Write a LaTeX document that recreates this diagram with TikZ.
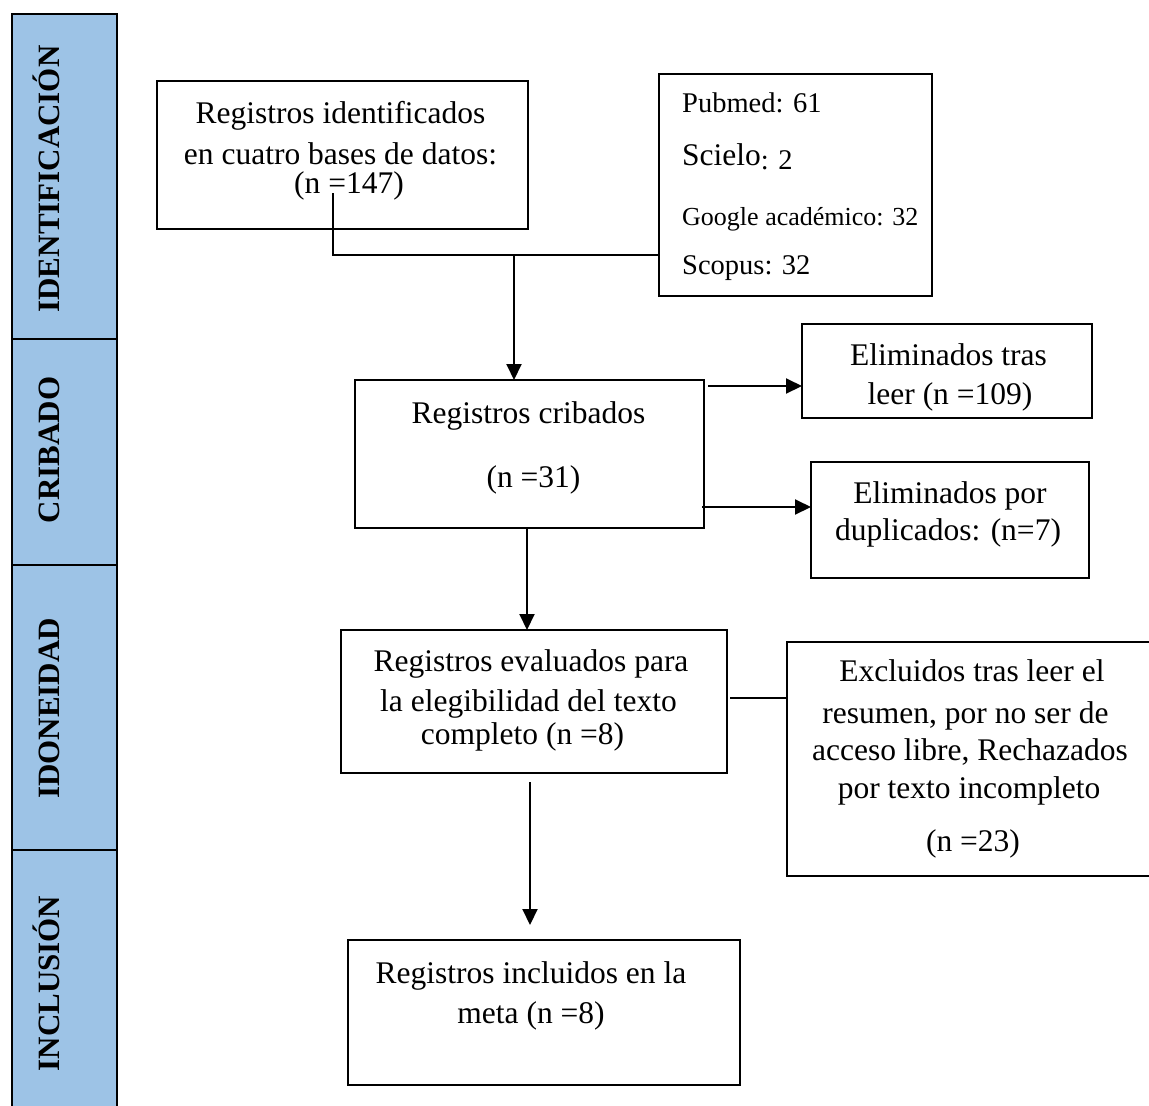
\documentclass[tikz,border=0pt]{standalone}
\usepackage{fontspec}
\setmainfont{Liberation Serif}
\usetikzlibrary{arrows.meta}
\definecolor{sideblue}{HTML}{9DC3E6}
\newcommand{\fmain}{\fontsize{31.5}{36}\selectfont}
\newcommand{\fside}{\fontsize{31}{36}\selectfont\bfseries}
\newcommand{\fsrc}{\fontsize{28.5}{32}\selectfont}
\newcommand{\fgoo}{\fontsize{26}{30}\selectfont}
\begin{document}
\begin{tikzpicture}[x=1pt,y=-1pt,
  box/.style={draw, line width=2.5pt, inner sep=0pt, outer sep=0pt},
  lbl/.style={anchor=base, inner sep=0pt, font=\fmain},
  srclbl/.style={anchor=base west, inner sep=0pt, font=\fsrc},
  sidebox/.style={draw, line width=2.5pt, fill=sideblue},
  sidelbl/.style={rotate=90, anchor=base, inner sep=0pt, font=\fside},
  conn/.style={line width=1.2pt},
  arr/.style={line width=2pt, -{Triangle[width=15pt,length=16pt]}}]
\useasboundingbox (0,0) rectangle (1149,1106);

% sidebar
\path[sidebox] (12,14) rectangle (117,339);
\path[sidebox] (12,339) rectangle (117,565);
\path[sidebox] (12,565) rectangle (117,850);
\path[sidebox] (12,850) rectangle (117,1120);
\node[sidelbl] (s1) at (59,179) {IDENTIFICACIÓN};
\node[sidelbl] (s2) at (59,450) {CRIBADO};
\node[sidelbl] (s3) at (59,708.5) {IDONEIDAD};
\node[sidelbl] (s4) at (59,983.5) {INCLUSIÓN};

% boxes
\node[box, minimum width=371, minimum height=148] (id) at (342.5,155) {};
\node[box, minimum width=273, minimum height=222] (src) at (795.5,185) {};
\node[box, minimum width=349, minimum height=148] (crib) at (529.5,454) {};
\node[box, minimum width=290, minimum height=94] (elim1) at (947,371) {};
\node[box, minimum width=278, minimum height=116] (elim2) at (950,520) {};
\node[box, minimum width=386, minimum height=143] (eval) at (534,701.5) {};
\node[box, minimum width=373, minimum height=234] (excl) at (973.5,759) {};
\node[box, minimum width=392, minimum height=145] (incl) at (544,1012.5) {};

% texts
\node[lbl] (t1) at (340.5,123) {Registros identificados};
\node[lbl] (t2) at (340.5,164) {en cuatro bases de datos:};
\node[lbl] (t3) at (349,193) {(n =147)};

\node[srclbl] (p1) at (682,112) {Pubmed: 61};
\node[srclbl, font=\fmain] (p2) at (682,165) {Scielo{\fsrc\raisebox{-4pt}{: 2}}};
\node[srclbl, font=\fgoo] (p3) at (682,225) {Google académico: 32};
\node[srclbl] (p4) at (682,274) {Scopus: 32};

\node[lbl] (c1) at (528.5,423) {Registros cribados};
\node[lbl] (c2) at (533.5,487) {(n =31)};

\node[lbl] (e1) at (948.5,365) {Eliminados tras};
\node[lbl] (e2) at (950,404) {leer (n =109)};
\node[lbl] (d1) at (950,503) {Eliminados por};
\node[lbl] (d2) at (948,540) {duplicados: (n=7)};

\node[lbl] (v1) at (531,671) {Registros evaluados para};
\node[lbl] (v2) at (528.5,711) {la elegibilidad del texto};
\node[lbl] (v3) at (522.5,744) {completo (n =8)};

\node[lbl] (x1) at (972,681) {Excluidos tras leer el};
\node[lbl] (x2) at (965.5,723) {resumen, por no ser de};
\node[lbl] (x3) at (970,760) {acceso libre, Rechazados};
\node[lbl] (x4) at (969,798) {por texto incompleto};
\node[lbl] (x5) at (973,851) {(n =23)};

\node[lbl] (i1) at (531,983) {Registros incluidos en la};
\node[lbl] (i2) at (531,1023) {meta (n =8)};

% connectors
\coordinate (ja) at (333,193);
\coordinate (jb) at (333,255);
\coordinate (jm) at (514,255);
\draw[conn] (ja) -- (jb) -- (src.west |- jb);
\draw[arr] (jm) -- (jm |- crib.north);

\coordinate (r1) at (708,386);
\coordinate (r2) at (702,507);
\draw[arr] (r1) -- (r1 -| elim1.west);
\draw[arr] (r2) -- (r2 -| elim2.west);

\coordinate (dn1) at (527,528);
\draw[arr] (dn1) -- (dn1 |- eval.north);

\coordinate (q1) at (730,698);
\draw[conn] (q1) -- (q1 -| excl.west);

\coordinate (dn2) at (530,782);
\draw[arr, shorten >=15pt] (dn2) -- (dn2 |- incl.north);
\end{tikzpicture}
\end{document}
